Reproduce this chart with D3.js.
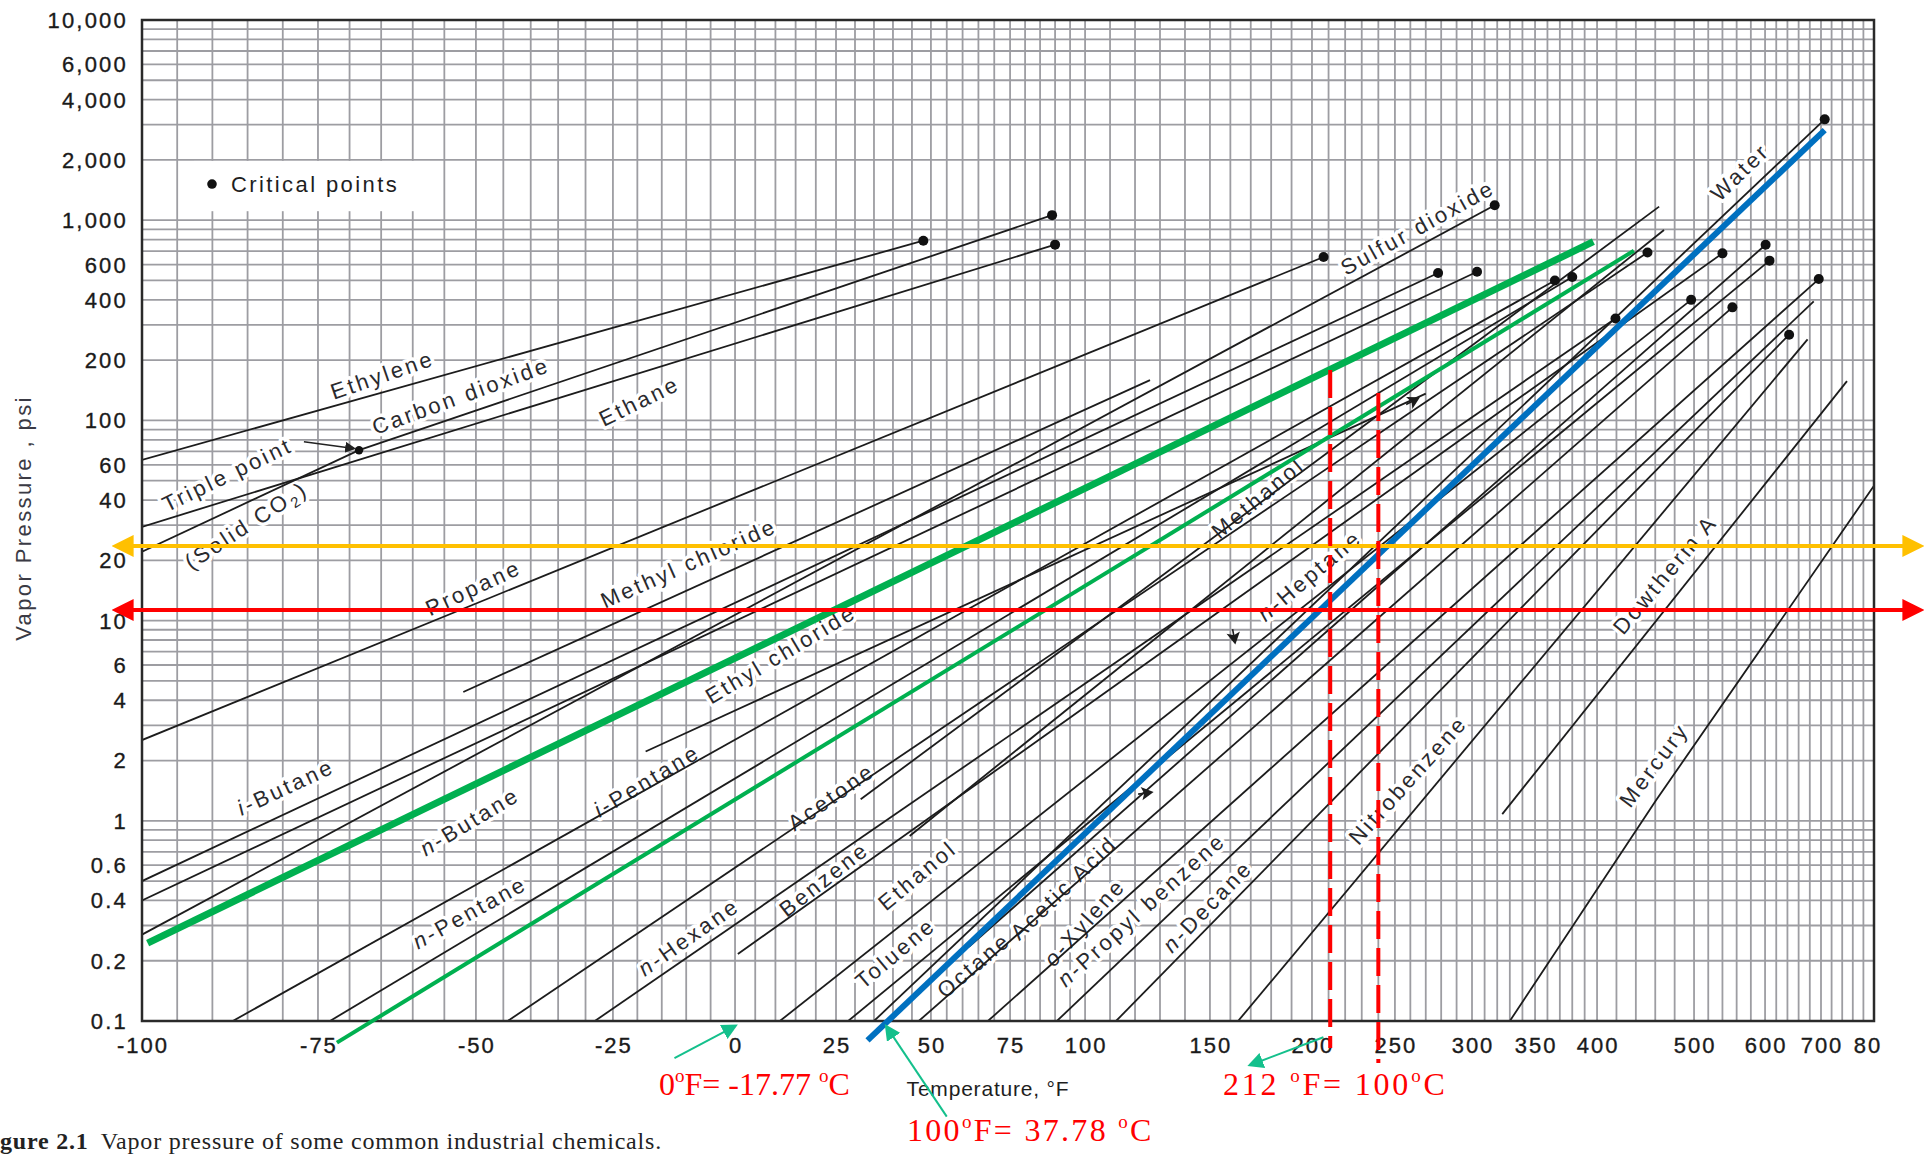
<!DOCTYPE html>
<html>
<head>
<meta charset="utf-8">
<script src="https://cdn.jsdelivr.net/npm/d3@7"></script>
<style>
  html, body { margin: 0; padding: 0; background: #ffffff; }
  svg { display: block; }
</style>
</head>
<body>
<svg id="chart" width="1928" height="1155"></svg>
<script>
// ---------------- DATA ----------------
const xTickValues = [-100, -75, -50, -25, 0, 25, 50, 75, 100, 150, 200, 250, 300, 350, 400, 500, 600, 700, 800];
const xTickLabels = ["-100", "-75", "-50", "-25", "0", "25", "50", "75", "100", "150", "200", "250", "300", "350", "400", "500", "600", "700", "800"];
const yTickValues = [0.1, 0.2, 0.4, 0.6, 1, 2, 4, 6, 10, 20, 40, 60, 100, 200, 400, 600, 1000, 2000, 4000, 6000, 10000];
const yTickLabels = ["0.1", "0.2", "0.4", "0.6", "1", "2", "4", "6", "10", "20", "40", "60", "100", "200", "400", "600", "1,000", "2,000", "4,000", "6,000", "10,000"];

// vapour-pressure lines: [temperature °F, pressure psi] points
const lineNames = [
  "Ethylene", "Ethane", "Solid CO2", "Carbon dioxide", "Propane", "Methyl chloride",
  "i-Butane", "n-Butane", "Sulfur dioxide", "Ethyl chloride", "i-Pentane", "n-Pentane",
  "Acetone", "n-Hexane", "Benzene", "Methanol", "Ethanol", "n-Heptane", "Toluene",
  "Octane", "Acetic acid", "o-Xylene", "n-Propyl benzene", "n-Decane", "Nitrobenzene",
  "Water", "Dowtherm A", "Mercury"
];
const linePoints = [
  [[-100, 63.5], [48, 790]],
  [[-100, 29.4], [90, 755]],
  [[-100, 22.1], [-68.5, 71]],
  [[-68.5, 71], [89, 1060]],
  [[-100, 2.53], [207, 655]],
  [[-52, 4.4], [126, 159]],
  [[-100, 0.50], [278, 545]],
  [[-100, 0.40], [304, 553]],
  [[-100, 0.27], [318, 1187]],
  [[-18.3, 2.22], [270, 136]],
  [[-87.1, 0.1], [366, 500]],
  [[-73.1, 0.1], [380, 520]],
  [[-44.2, 0.1], [452, 690]],
  [[-28.3, 0.1], [419, 323]],
  [[0.7, 0.216], [540, 683]],
  [[31.5, 1.28], [464, 1169]],
  [[44.4, 0.84], [469, 894]],
  [[11.1, 0.1], [497, 400]],
  [[28.2, 0.1], [608, 628]],
  [[46.8, 0.1], [554, 367]],
  [[62, 0.235], [601, 754]],
  [[68, 0.1], [696, 508]],
  [[90.6, 0.1], [687, 393]],
  [[112.4, 0.1], [643, 268]],
  [[163.8, 0.1], [676, 254]],
  [[35, 0.1], [707, 3190]],
  [[324, 1.08], [749, 157]],
  [[330, 0.1], [461, 1.27], [800, 47.2]]
];

// critical points (dots)
const criticalPoints = [
  [48, 790], [89, 1060], [90, 755], [207, 655], [318, 1187], [278, 545], [304, 553],
  [366, 500], [380, 520], [419, 323], [452, 690], [497, 400], [540, 683], [554, 367],
  [601, 754], [608, 628], [643, 268], [696, 508], [707, 3190]
];
const triplePoint = [-68.5, 71];

// small arrow marks drawn on some lines: [temperature, pressure, angle]
const arrowMarks = [[265.3, 129.4, -28], [126.8, 1.39, -8], [162.3, 7.73, 80]];

// line labels: text, temperature, pressure, angle
const labelTexts = [
  "Ethylene", "Carbon dioxide", "Ethane", "Triple point", "(Solid CO|2|)", "Propane",
  "Methyl chloride", "Sulfur dioxide", "*i*-Butane", "*n*-Butane", "Ethyl chloride",
  "*i*-Pentane", "*n*-Pentane", "Acetone", "*n*-Hexane", "Benzene", "Ethanol", "Toluene",
  "Octane", "Acetic Acid", "*o*-Xylene", "*n*-Propyl benzene", "*n*-Decane", "Methanol",
  "*n*-Heptane", "Nitrobenzene", "Water", "Dowtherm A", "Mercury"
];
const labelTemps = [-64.8, -52.4, -19.6, -87.9, -85.2, -50.4, -9.5, 264.7, -79.6, -51, 11.3,
  -18.1, -51, 23.8, -9.5, 22, 46.4, 40.6, 63.5, 92.9, 99.8, 122.5, 149, 173.5, 198.8, 258.4,
  564.6, 470, 458.6];
const labelPressures = [168.6, 132.6, 125, 53.6, 30, 14.6, 19.35, 919, 1.475, 0.993, 6.8,
  1.585, 0.349, 1.318, 0.263, 0.511, 0.533, 0.2186, 0.19, 0.463, 0.3115, 0.36, 0.3745, 41,
  16.8, 1.6, 1739, 17, 1.905];
const labelAngles = [-19, -20, -26, -26, -33, -25, -24, -29, -25, -31, -31, -31, -29, -35,
  -35, -38, -40, -40, -40, -44, -48, -42, -46, -40, -40, -48, -44, -50, -53];

// annotation overlays
const greenThick = [[-99.2, 0.245], [397, 781]];
const greenThin = [[-72, 0.078], [438, 704]];
const blueLine = [[33.3, 0.080], [707, 2820]];
const arrowLevels = [23.6, 11.3];            // yellow, red horizontal arrows (psi)
const dashedTemps = [211, 240];               // red dashed verticals (°F)
const dashedTop = [178.6, 137];
const dashedBottom = [0.0733, 0.0617];
const tealArrows = [
  [[-12.4, 0.0653], [0, 0.0944]],
  [[55, 0.0333], [38.3, 0.0937]],
  [[206.9, 0.0829], [169.8, 0.0603]]
];
const triplePointArrow = [[-77, 78.3], [-69.3, 72.4]];

// ---------------- LAYOUT ----------------
const svg = d3.select("#chart");
const plotL = 142, plotR = 1874, plotT = 20, plotB = 1021;
const xFrac = [0, 0.1016, 0.1928, 0.2719, 0.3424, 0.4007, 0.4555, 0.5012, 0.5445, 0.6166,
  0.6755, 0.7234, 0.7679, 0.8043, 0.8401, 0.8961, 0.9371, 0.9694, 1];
const x = d3.scaleLinear().domain(xTickValues).range(xFrac.map(f => plotL + f * (plotR - plotL)));
const y = d3.scaleLog().domain([0.1, 10000]).range([plotB, plotT]);

const defs = svg.append("defs");
defs.append("clipPath").attr("id", "plotClip").append("rect")
  .attr("x", plotL).attr("y", plotT).attr("width", plotR - plotL).attr("height", plotB - plotT);
defs.append("clipPath").attr("id", "tickClip").append("rect")
  .attr("x", 0).attr("y", 0).attr("width", 1882).attr("height", 1155);
function marker(id, color, size) {
  defs.append("marker").attr("id", id).attr("viewBox", "0 0 10 10")
    .attr("refX", 8).attr("refY", 5).attr("markerWidth", size).attr("markerHeight", size)
    .attr("markerUnits", "userSpaceOnUse").attr("orient", "auto-start-reverse")
    .append("path").attr("d", "M0,0 L10,5 L0,10 Z").attr("fill", color);
}
marker("arYellow", "#ffc000", 22);
marker("arRed", "#ff0000", 22);
marker("arTeal", "#14c08c", 16);
marker("arBlack", "#222", 11);

// ---------------- GRID ----------------
const gridTemps = [];
for (let t = -100; t <= 100; t += 5) gridTemps.push(t);
for (let t = 110; t <= 400; t += 10) gridTemps.push(t);
for (let t = 420; t <= 800; t += 20) gridTemps.push(t);
const gridPress = [];
for (let d = -1; d < 4; d++) for (let k = 1; k <= 9; k++) gridPress.push(k * Math.pow(10, d));
gridPress.push(10000);

const grid = svg.append("g").attr("stroke", "#9d9da2").attr("stroke-width", 1.8);
grid.selectAll("line.v").data(gridTemps).join("line").attr("class", "v")
  .attr("x1", d => x(d)).attr("x2", d => x(d)).attr("y1", plotT).attr("y2", plotB);
grid.selectAll("line.h").data(gridPress).join("line").attr("class", "h")
  .attr("x1", plotL).attr("x2", plotR).attr("y1", d => y(d)).attr("y2", d => y(d));

// legend box (white background over grid)
svg.append("rect").attr("x", plotL + 52).attr("y", y(2000) + 1).attr("width", 236)
  .attr("height", y(1000) - y(2000) - 10).attr("fill", "#fff");
svg.append("circle").attr("cx", plotL + 70).attr("cy", (y(2000) + y(1000)) / 2 - 6).attr("r", 4.8).attr("fill", "#111");
svg.append("text").attr("x", plotL + 89).attr("y", (y(2000) + y(1000)) / 2 + 2)
  .attr("font-family", "Liberation Sans, Arial, sans-serif").attr("font-size", 22)
  .attr("letter-spacing", 2.4).attr("fill", "#1e1e1e").text("Critical points");

// ---------------- LINE LABELS (white halo) ----------------
const labG = svg.append("g").attr("font-family", "Liberation Sans, Arial, sans-serif")
  .attr("font-size", 22).attr("letter-spacing", 2.8).attr("fill", "#2a2a2e");
labelTexts.forEach((t, i) => {
  const tx = x(labelTemps[i]), ty = y(labelPressures[i]);
  const txt = labG.append("text").attr("text-anchor", "middle").attr("dy", "0.35em")
    .attr("transform", `translate(${tx},${ty}) rotate(${labelAngles[i]})`)
    .attr("stroke", "#fff").attr("stroke-width", 7).attr("paint-order", "stroke")
    .attr("stroke-linejoin", "round");
  const parts = t.split(/(\*[^*]+\*|\|[^|]+\|)/).filter(s => s.length);
  parts.forEach(p => {
    if (p.startsWith("*")) txt.append("tspan").attr("font-style", "italic").text(p.slice(1, -1));
    else if (p.startsWith("|")) txt.append("tspan").attr("font-size", 15).attr("dy", 5).text(p.slice(1, -1));
    else {
      const s = txt.append("tspan").text(p);
      if (t.includes("|") && p === ")") s.attr("dy", -5);
    }
  });
});

// ---------------- VAPOUR PRESSURE LINES ----------------
const lineGen = d3.line().x(d => x(d[0])).y(d => y(d[1]));
svg.append("g").attr("clip-path", "url(#plotClip)")
  .selectAll("path").data(linePoints).join("path")
  .attr("d", lineGen).attr("fill", "none").attr("stroke", "#1c1c1c").attr("stroke-width", 1.8);

svg.append("g").selectAll("circle").data(criticalPoints).join("circle")
  .attr("cx", d => x(d[0])).attr("cy", d => y(d[1])).attr("r", 5).attr("fill", "#111");

// small arrowheads on lines
svg.append("g").selectAll("path").data(arrowMarks).join("path")
  .attr("transform", d => `translate(${x(d[0])},${y(d[1])}) rotate(${d[2]})`)
  .attr("d", "M-14,0 L0,0 M0,0 L-9,-5 L-7,0 L-9,5 Z")
  .attr("stroke", "#1c1c1c").attr("stroke-width", 1.6).attr("fill", "#1c1c1c");

// triple point marker and arrow
svg.append("circle").attr("cx", x(triplePoint[0])).attr("cy", y(triplePoint[1])).attr("r", 4.2).attr("fill", "#111");
svg.append("path").attr("d", lineGen(triplePointArrow)).attr("stroke", "#222")
  .attr("stroke-width", 1.5).attr("fill", "none").attr("marker-end", "url(#arBlack)");

// ---------------- FRAME ----------------
svg.append("rect").attr("x", plotL).attr("y", plotT).attr("width", plotR - plotL)
  .attr("height", plotB - plotT).attr("fill", "none").attr("stroke", "#2a2a2a").attr("stroke-width", 2.5);

// ---------------- AXES ----------------
const tickFont = "Liberation Sans, Arial, sans-serif";
svg.append("g").selectAll("text").data(yTickValues).join("text")
  .attr("x", plotL - 14).attr("y", d => y(d)).attr("dy", "0.36em").attr("text-anchor", "end")
  .attr("font-family", tickFont).attr("font-size", 22).attr("letter-spacing", 2.2)
  .attr("fill", "#1a1a1a").attr("stroke", "#1a1a1a").attr("stroke-width", 0.35)
  .text((d, i) => yTickLabels[i]);

svg.append("g").attr("clip-path", "url(#tickClip)").selectAll("text").data(xTickValues).join("text")
  .attr("x", d => x(d) + 1).attr("y", plotB + 32).attr("text-anchor", "middle")
  .attr("font-family", tickFont).attr("font-size", 22).attr("letter-spacing", 2)
  .attr("fill", "#1a1a1a").attr("stroke", "#1a1a1a").attr("stroke-width", 0.35)
  .text((d, i) => xTickLabels[i]);

svg.append("text").attr("x", 988).attr("y", plotB + 75).attr("text-anchor", "middle")
  .attr("font-family", tickFont).attr("font-size", 21).attr("letter-spacing", 0.8).attr("fill", "#1e1e1e")
  .text("Temperature, °F");
svg.append("text").attr("transform", `translate(31,518) rotate(-90)`)
  .attr("text-anchor", "middle").attr("font-family", tickFont).attr("font-size", 22)
  .attr("letter-spacing", 2.4).attr("fill", "#3a3a44").text("Vapor Pressure , psi");

// caption
const cap = svg.append("text").attr("x", 0).attr("y", 1149)
  .attr("font-family", "Liberation Serif, Times New Roman, serif").attr("font-size", 24)
  .attr("letter-spacing", 0.8).attr("fill", "#222");
cap.append("tspan").attr("font-weight", "bold").text("gure 2.1");
cap.append("tspan").attr("dx", 12).text("Vapor pressure of some common industrial chemicals.");

// ---------------- ANNOTATION OVERLAYS ----------------
svg.append("path").attr("d", lineGen(greenThick)).attr("stroke", "#00b050").attr("stroke-width", 7).attr("fill", "none");
svg.append("path").attr("d", lineGen(greenThin)).attr("stroke", "#00b050").attr("stroke-width", 4).attr("fill", "none");
svg.append("path").attr("d", lineGen(blueLine)).attr("stroke", "#0070c0").attr("stroke-width", 6).attr("fill", "none");

const arrowColors = ["#ffc000", "#ff0000"];
const arrowMarkers = ["url(#arYellow)", "url(#arRed)"];
arrowLevels.forEach((p, i) => {
  svg.append("line").attr("x1", plotL - 26).attr("x2", plotR + 46)
    .attr("y1", y(p)).attr("y2", y(p)).attr("stroke", arrowColors[i]).attr("stroke-width", 4)
    .attr("marker-start", arrowMarkers[i]).attr("marker-end", arrowMarkers[i]);
});

dashedTemps.forEach((t, i) => {
  svg.append("line").attr("x1", x(t)).attr("x2", x(t)).attr("y1", y(dashedTop[i])).attr("y2", y(dashedBottom[i]))
    .attr("stroke", "#ff0000").attr("stroke-width", 4).attr("stroke-dasharray", "28,9");
});

tealArrows.forEach(a => {
  svg.append("path").attr("d", lineGen(a)).attr("stroke", "#14c08c").attr("stroke-width", 2)
    .attr("fill", "none").attr("marker-end", "url(#arTeal)");
});

const redFont = "Liberation Serif, Times New Roman, serif";
function redNote(xp, yp, ls, a, b, d) {
  const t = svg.append("text").attr("x", xp).attr("y", yp).attr("font-family", redFont)
    .attr("font-size", 32).attr("letter-spacing", ls).attr("fill", "#ff0000");
  t.append("tspan").text(a);
  t.append("tspan").attr("font-size", 19).attr("dy", -13).text("o");
  t.append("tspan").attr("dy", 13).text(b);
  t.append("tspan").attr("font-size", 19).attr("dy", -13).text("o");
  t.append("tspan").attr("dy", 13).text(d);
}
redNote(659, 1095, 0, "0", "F= -17.77 ", "C");
redNote(907, 1141, 2.3, "100", "F= 37.78 ", "C");
redNote(1223, 1095, 2.8, "212 ", "F= 100", "C");
</script>
</body>
</html>
